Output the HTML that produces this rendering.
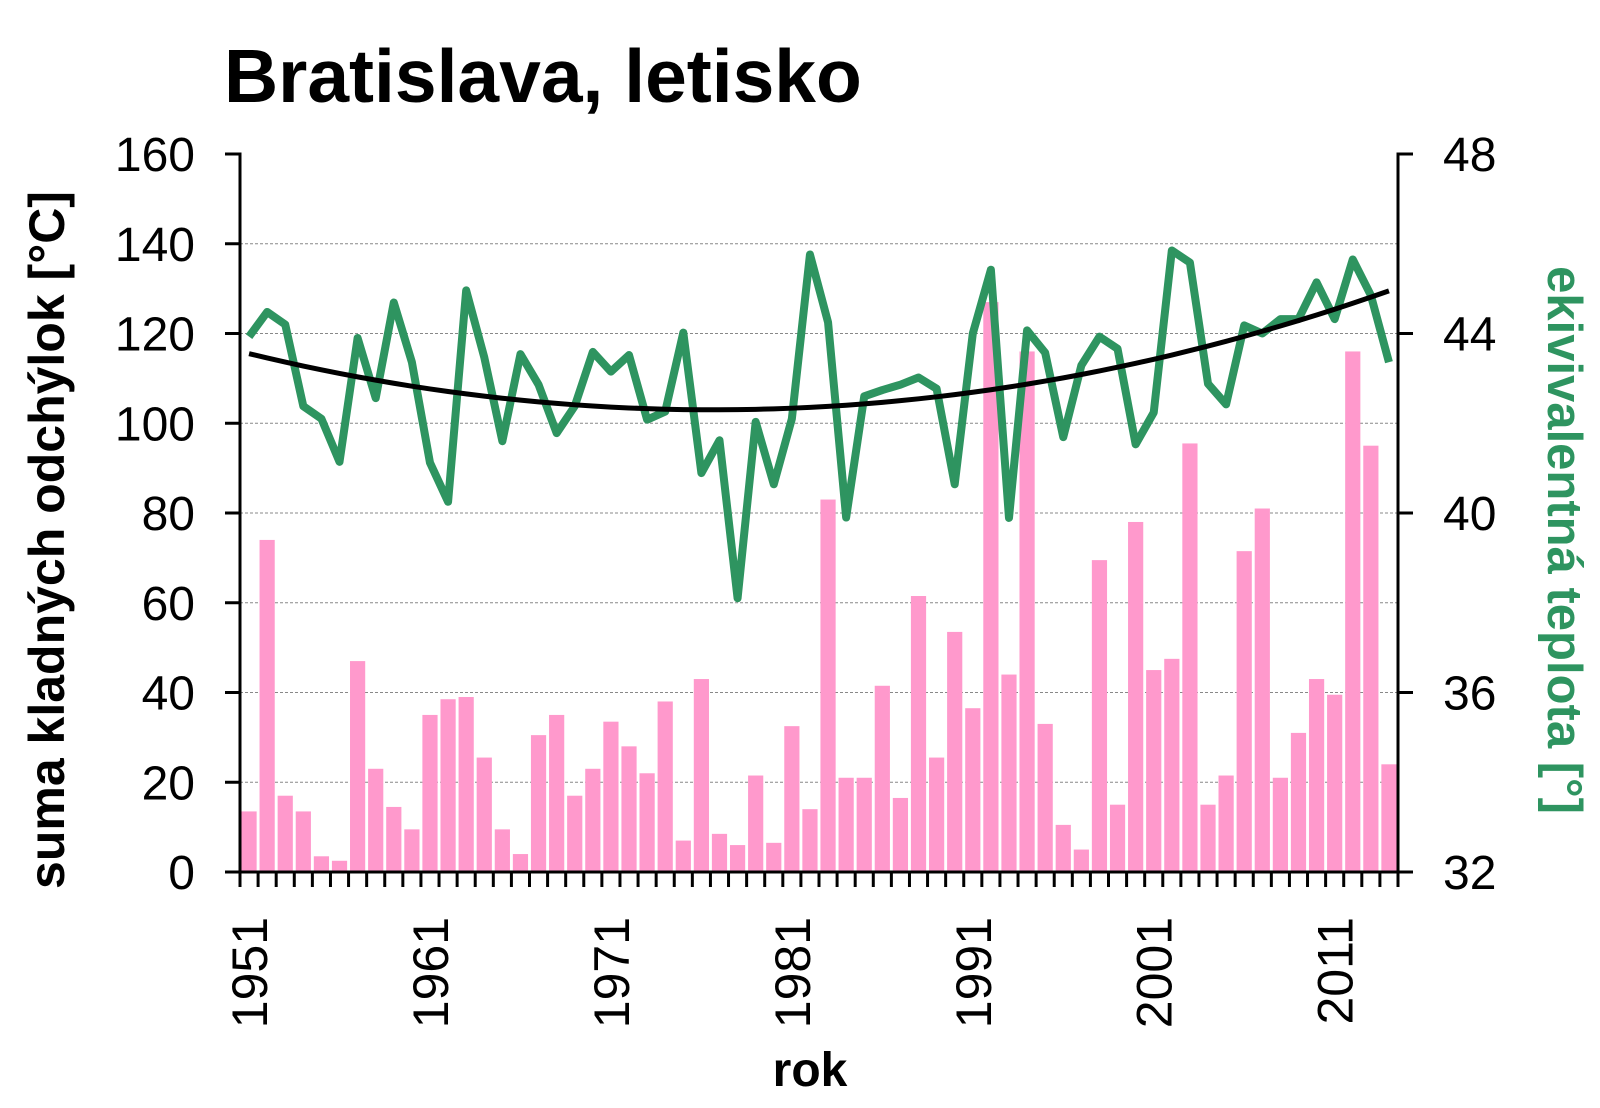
<!DOCTYPE html>
<html><head><meta charset="utf-8"><style>
body{margin:0;background:#fff}
svg text{font-family:"Liberation Sans",Arial,sans-serif}
</style></head><body>
<svg id="chart" width="1600" height="1103" viewBox="0 0 1600 1103" xmlns="http://www.w3.org/2000/svg">
<rect width="1600" height="1103" fill="#fff"/>
<text x="224" y="102" font-size="75" font-weight="bold">Bratislava, letisko</text>
<g id="grid"></g>
<g id="bars"></g>
<g id="lines"></g>
<g id="axes"></g>
<text transform="translate(64,540) rotate(-90)" text-anchor="middle" font-size="50" font-weight="bold">suma kladných odchýlok [°C]</text>
<text transform="translate(1548,540) rotate(90)" text-anchor="middle" font-size="49" font-weight="bold" fill="#2e9460">ekivivalentná teplota [°]</text>
<text x="810" y="1086" text-anchor="middle" font-size="48" font-weight="bold">rok</text>
</svg>
<script>
const startYear = 1951;
const bars = [13.5,74,17,13.5,3.5,2.5,47,23,14.5,9.5,35,38.5,39,25.5,9.5,4,30.5,35,17,23,33.5,28,22,38,7,43,8.5,6,21.5,6.5,32.5,14,83,21,21,41.5,16.5,61.5,25.5,53.5,36.5,127,44,116,33,10.5,5,69.5,15,78,45,47.5,95.5,15,21.5,71.5,81,21,31,43,39.5,116,95,24];
const temps = [43.93,44.48,44.2,42.38,42.1,41.14,43.9,42.56,44.69,43.36,41.12,40.25,44.96,43.47,41.6,43.54,42.86,41.78,42.38,43.59,43.15,43.52,42.08,42.26,44.02,40.89,41.62,38.1,42.03,40.64,42.1,45.76,44.25,39.9,42.6,42.74,42.86,43.02,42.77,40.64,44.0,45.42,39.89,44.07,43.57,41.69,43.29,43.93,43.66,41.53,42.24,45.85,45.58,42.88,42.42,44.18,44.0,44.32,44.32,45.14,44.32,45.65,44.85,43.36];
const trendYears = [1951,1977,2014];
const trendValues = [115.5,103,129.5];
const leftTicks = [0,20,40,60,80,100,120,140,160];
const rightTicks = [32,36,40,44,48];
const xLabels = [1951,1961,1971,1981,1991,2001,2011];

const NS="http://www.w3.org/2000/svg";
const X0=240,X1=1398,Y0=872,Y1=154;
const n=bars.length, bw=(X1-X0)/n;
const xC=i=>X0+bw*(i+0.5);
const yL=v=>Y0-(v/160)*(Y0-Y1);
const yR=v=>Y0-((v-32)/16)*(Y0-Y1);
function mk(tag,attrs,parent){const e=document.createElementNS(NS,tag);for(const k in attrs)e.setAttribute(k,attrs[k]);document.getElementById(parent).appendChild(e);return e;}

leftTicks.forEach(t=>{
  if(t>0&&t<160){const g=mk('line',{x1:X0,x2:X1,y1:yL(t),y2:yL(t),stroke:'#888','stroke-width':1,'stroke-dasharray':'3,2'},'grid');
  
  }
  const tk=mk('line',{x1:X0-15,x2:X0,y1:yL(t),y2:yL(t),stroke:'#000','stroke-width':3},'axes');
  
  
  const tx=mk('text',{x:X0-45,y:yL(t)+17,'text-anchor':'end','font-size':48},'axes');
  tx.textContent=t;
  
  
});
rightTicks.forEach(t=>{
  const tk=mk('line',{x1:X1,x2:X1+15,y1:yR(t),y2:yR(t),stroke:'#000','stroke-width':3},'axes');
  
  
  const tx=mk('text',{x:X1+45,y:yR(t)+17,'font-size':48},'axes');
  tx.textContent=t;
  
  
});
bars.forEach((v,i)=>{
  const r=mk('rect',{x:xC(i)-bw*0.42,width:bw*0.84,y:yL(v),height:Y0-yL(v),fill:'#ff99cc'},'bars');
  
  
});
for(let i=0;i<=n;i++){
  const tk=mk('line',{x1:X0+bw*i,x2:X0+bw*i,y1:Y0,y2:Y0+15,stroke:'#000','stroke-width':3},'axes');
  
  
}
xLabels.forEach(y=>{
  const i=y-startYear, x=xC(i)+18;
  const tx=mk('text',{transform:`translate(${x},${917}) rotate(-90)`,'text-anchor':'end','font-size':50},'axes');
  tx.textContent=y;
  
  
});
const pts=temps.map((v,i)=>xC(i)+','+yR(v)).join(' ');
const gl=mk('polyline',{points:pts,fill:'none',stroke:'#2e9460','stroke-width':8,'stroke-linejoin':'round'},'lines');


function lag(x){let s=0;for(let j=0;j<3;j++){let p=trendValues[j];for(let k=0;k<3;k++)if(k!==j)p*=(x-trendYears[k])/(trendYears[j]-trendYears[k]);s+=p;}return s;}
const tp=[];for(let i=0;i<n;i++)tp.push(xC(i)+','+yL(lag(startYear+i)));
const tl=mk('polyline',{points:tp.join(' '),fill:'none',stroke:'#000','stroke-width':5},'lines');


const ax=mk('path',{d:`M${X0-15},${Y1}H${X0}V${Y0}H${X1+15}M${X1},${Y0}V${Y1}H${X1+15}`,fill:'none',stroke:'#000','stroke-width':3},'axes');


</script>
</body></html>
